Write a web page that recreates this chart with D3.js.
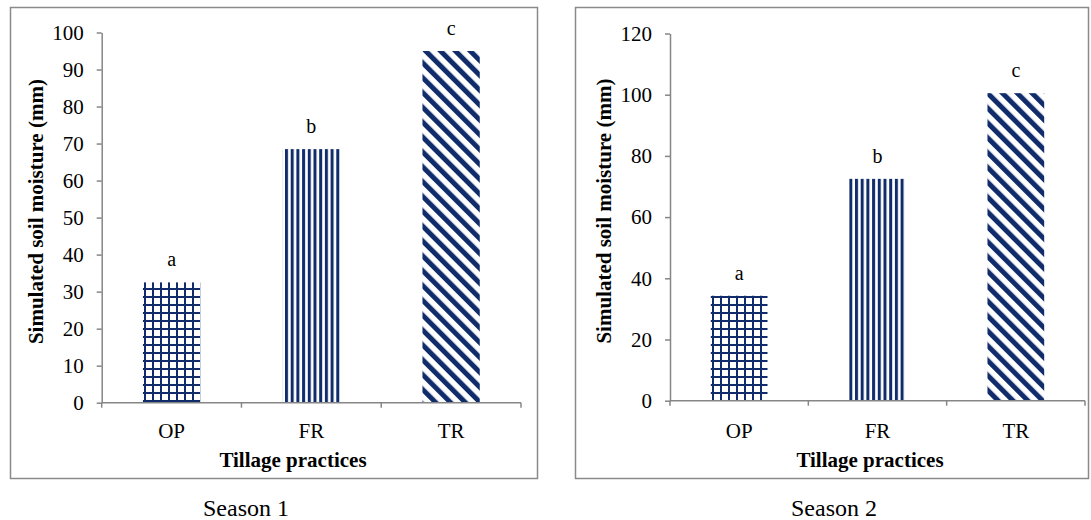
<!DOCTYPE html>
<html>
<head>
<meta charset="utf-8">
<script src="https://cdn.jsdelivr.net/npm/d3@7"></script>
<style>
  html, body { margin: 0; padding: 0; background: #ffffff; }
  svg { display: block; }
  text { font-family: "Liberation Serif", "Times New Roman", serif; fill: #000; }
</style>
</head>
<body>
<svg id="chart" width="1091" height="520"></svg>
<script>
// ---- Data ----
const categories = ["OP", "FR", "TR"];
const season1Values = [32.5, 68.5, 95];
const season2Values = [34.3, 72.5, 100.5];
const significanceLetters = ["a", "b", "c"];
const season1Ticks = [0, 10, 20, 30, 40, 50, 60, 70, 80, 90, 100];
const season2Ticks = [0, 20, 40, 60, 80, 100, 120];
const seasonLabels = ["Season 1", "Season 2"];
const yAxisTitle = "Simulated soil moisture (mm)";
const xAxisTitle = "Tillage practices";

// ---- Styling / layout ----
const NAVY = "#102c6b";
const AXIS = "#868686";
const BORDER = "#8a8a8a";

const svg = d3.select("#chart");
const defs = svg.append("defs");

// grid pattern (OP)
const pGrid = defs.append("pattern").attr("id", "pGrid")
  .attr("patternUnits", "userSpaceOnUse").attr("width", 8).attr("height", 8);
pGrid.append("rect").attr("width", 8).attr("height", 8).attr("fill", "#fff");
pGrid.append("rect").attr("x", 0).attr("y", 0).attr("width", 2).attr("height", 8).attr("fill", NAVY);
pGrid.append("rect").attr("x", 0).attr("y", 0).attr("width", 8).attr("height", 2).attr("fill", NAVY);

// vertical stripes (FR)
const pVert = defs.append("pattern").attr("id", "pVert")
  .attr("patternUnits", "userSpaceOnUse").attr("width", 5.7).attr("height", 10);
pVert.append("rect").attr("width", 5.7).attr("height", 10).attr("fill", "#fff");
pVert.append("rect").attr("x", 0).attr("width", 3).attr("height", 10).attr("fill", NAVY);

// diagonal stripes (TR)
const pDiag = defs.append("pattern").attr("id", "pDiag")
  .attr("patternUnits", "userSpaceOnUse").attr("width", 10.5).attr("height", 10)
  .attr("patternTransform", "rotate(-45)");
pDiag.append("rect").attr("width", 10.5).attr("height", 10).attr("fill", "#fff");
pDiag.append("rect").attr("x", 0).attr("width", 5).attr("height", 10).attr("fill", NAVY);

const fills = ["url(#pGrid)", "url(#pVert)", "url(#pDiag)"];

const panels = [
  { values: season1Values, ticks: season1Ticks, ymax: 100, label: seasonLabels[0],
    box: [10.5, 7.5, 527, 471], plotX: [101.7, 521], plotY: [402.7, 32.5],
    yTitleX: 36, xTitleX: 293, seasonX: 246 },
  { values: season2Values, ticks: season2Ticks, ymax: 120, label: seasonLabels[1],
    box: [575.5, 7.5, 513, 471], plotX: [670, 1085], plotY: [400.7, 33.5],
    yTitleX: 604, xTitleX: 870, seasonX: 834 }
];

panels.forEach(p => {
  const g = svg.append("g");
  // border
  g.append("rect").attr("x", p.box[0]).attr("y", p.box[1])
    .attr("width", p.box[2]).attr("height", p.box[3])
    .attr("fill", "none").attr("stroke", BORDER).attr("stroke-width", 1.5);

  const x = d3.scaleBand().domain(categories).range(p.plotX)
    .paddingInner(0.59).paddingOuter(0.295);
  const y = d3.scaleLinear().domain([0, p.ymax]).range(p.plotY);

  // bars
  g.selectAll("rect.bar").data(categories).join("rect")
    .attr("class", "bar")
    .attr("x", d => x(d))
    .attr("y", (d, i) => y(p.values[i]))
    .attr("width", x.bandwidth())
    .attr("height", (d, i) => y(0) - y(p.values[i]))
    .attr("fill", (d, i) => fills[i]);

  // letters
  g.selectAll("text.sig").data(categories).join("text")
    .attr("class", "sig")
    .attr("x", d => x(d) + x.bandwidth() / 2)
    .attr("y", (d, i) => y(p.values[i]) - 16)
    .attr("text-anchor", "middle")
    .style("font-size", "20px")
    .text((d, i) => significanceLetters[i]);

  // y axis
  const yAxis = g.append("g").attr("transform", `translate(${p.plotX[0]},0)`)
    .call(d3.axisLeft(y).tickValues(p.ticks).tickSize(5).tickSizeOuter(0).tickPadding(13).tickFormat(d3.format("d")));
  yAxis.select(".domain").attr("stroke", AXIS).attr("stroke-width", 1.5);
  yAxis.selectAll(".tick line").attr("stroke", AXIS).attr("stroke-width", 1.5);
  yAxis.selectAll(".tick text").style("font-size", "21px")
    .style("font-family", '"Liberation Serif", "Times New Roman", serif').attr("fill", "#000");

  // x axis
  const xg = g.append("g");
  xg.append("line").attr("x1", p.plotX[0]).attr("x2", p.plotX[1])
    .attr("y1", y(0)).attr("y2", y(0)).attr("stroke", AXIS).attr("stroke-width", 1.5);
  const bounds = d3.range(categories.length + 1).map(i => x.range()[0] + i * x.step());
  xg.selectAll("line.xt").data(bounds).join("line").attr("class", "xt")
    .attr("x1", d => d).attr("x2", d => d)
    .attr("y1", y(0)).attr("y2", y(0) + 5)
    .attr("stroke", AXIS).attr("stroke-width", 1.5);
  xg.selectAll("text.xl").data(categories).join("text").attr("class", "xl")
    .attr("x", d => x(d) + x.bandwidth() / 2)
    .attr("y", 438)
    .attr("text-anchor", "middle")
    .style("font-size", "21px")
    .text(d => d);

  // axis titles
  g.append("text")
    .attr("transform", `translate(${p.yTitleX},${(p.plotY[0] + p.plotY[1]) / 2 - 6}) rotate(-90)`)
    .attr("text-anchor", "middle").attr("dy", "0.35em")
    .style("font-size", "21px").style("font-weight", "bold")
    .text(yAxisTitle);
  g.append("text")
    .attr("x", p.xTitleX).attr("y", 467)
    .attr("text-anchor", "middle")
    .style("font-size", "21px").style("font-weight", "bold")
    .text(xAxisTitle);

  // season label
  svg.append("text")
    .attr("x", p.seasonX).attr("y", 516)
    .attr("text-anchor", "middle")
    .style("font-size", "24px")
    .text(p.label);
});
</script>
</body>
</html>
